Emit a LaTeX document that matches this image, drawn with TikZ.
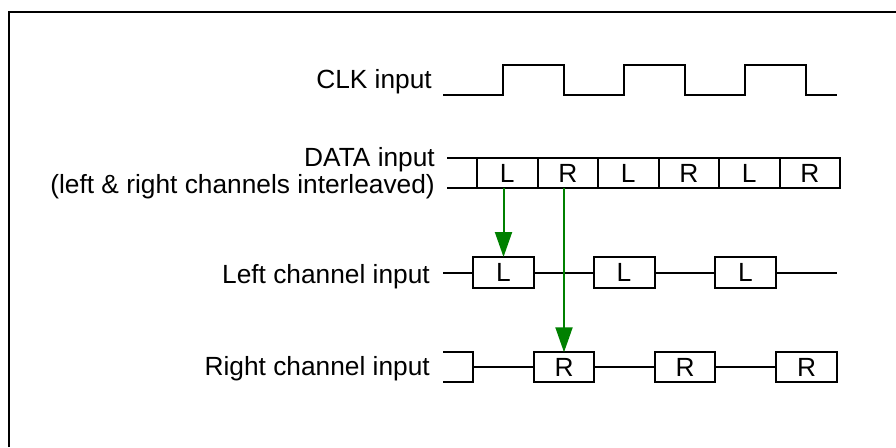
\documentclass[tikz,border=0pt]{standalone}
\usepackage{fontspec}
\setmainfont{Liberation Sans}
\usetikzlibrary{arrows.meta}

\begin{document}
\begin{tikzpicture}[x=1pt,y=-1pt,font=\fontsize{26.3}{30}\selectfont]
        \tikzset{wire/.style = {line width=2pt}}
        \tikzset{cell/.style = {shape=rectangle,draw,line width=2pt,inner sep=0pt,outer sep=0pt,minimum width=60.5pt,minimum height=30pt}}
        \tikzset{lbl/.style = {anchor=base east,inner sep=0pt}}
        \tikzset{sel/.style = {-{Triangle[length=25pt,width=17pt]},line width=2pt,green!50!black}}
        \useasboundingbox (0,0) rectangle (896,447);
        \draw[line width=2.4pt] (9,447) -- (9,12) -- (896,12);

        \node[lbl] (clk) at (432,88) {CLK input};
        \node[lbl] (data) at (435,166) {DATA input};
        \node[lbl] (mix) at (435,193) {(left \& right channels interleaved)};
        \node[lbl] (left) at (430,283) {Left channel input};
        \node[lbl] (right) at (430,375) {Right channel input};

        \draw[wire] (443,95) -- (503,95) -- (503,65) -- (564,65) -- (564,95) -- (624,95)
          -- (624,65) -- (685,65) -- (685,95) -- (745,95) -- (745,65) -- (806,65)
          -- (806,95) -- (837,95);

        \node[cell] (d1) at (507.25,173.3) {L};
        \node[cell] (d2) at (567.75,173.3) {R};
        \node[cell] (d3) at (628.25,173.3) {L};
        \node[cell] (d4) at (688.75,173.3) {R};
        \node[cell] (d5) at (749.25,173.3) {L};
        \node[cell] (d6) at (809.75,173.3) {R};
        \coordinate (dt) at (447,158.3);
        \coordinate (db) at (447,188.3);
        \draw[wire] (dt) -- (d1.north west);
        \draw[wire] (db) -- (d1.south west);

        \node[cell,minimum width=61pt,minimum height=31pt] (l1) at (503.5,272.5) {L};
        \node[cell,minimum width=61pt,minimum height=31pt] (l2) at (624,272.5) {L};
        \node[cell,minimum width=61pt,minimum height=31pt] (l3) at (745.5,272.5) {L};
        \coordinate (l0) at (443,272.5);
        \coordinate (l4) at (837,272.5);
        \draw[wire] (l0) -- (l1) -- (l2) -- (l3) -- (l4);

        \node[cell] (r1) at (564,367.3) {R};
        \node[cell] (r2) at (685,367.3) {R};
        \node[cell] (r3) at (806.5,367.3) {R};
        \coordinate (r0) at (473,367.3);
        \draw[wire] (443,352.3) -- (473,352.3) -- (473,382.3) -- (443,382.3);
        \draw[wire] (r0) -- (r1) -- (r2) -- (r3);

        \draw[sel] (l1.north |- d1.south) -- (l1.north);
        \draw[sel] (r1.north |- d2.south) -- (r1.north);
      \end{tikzpicture}
\end{document}
